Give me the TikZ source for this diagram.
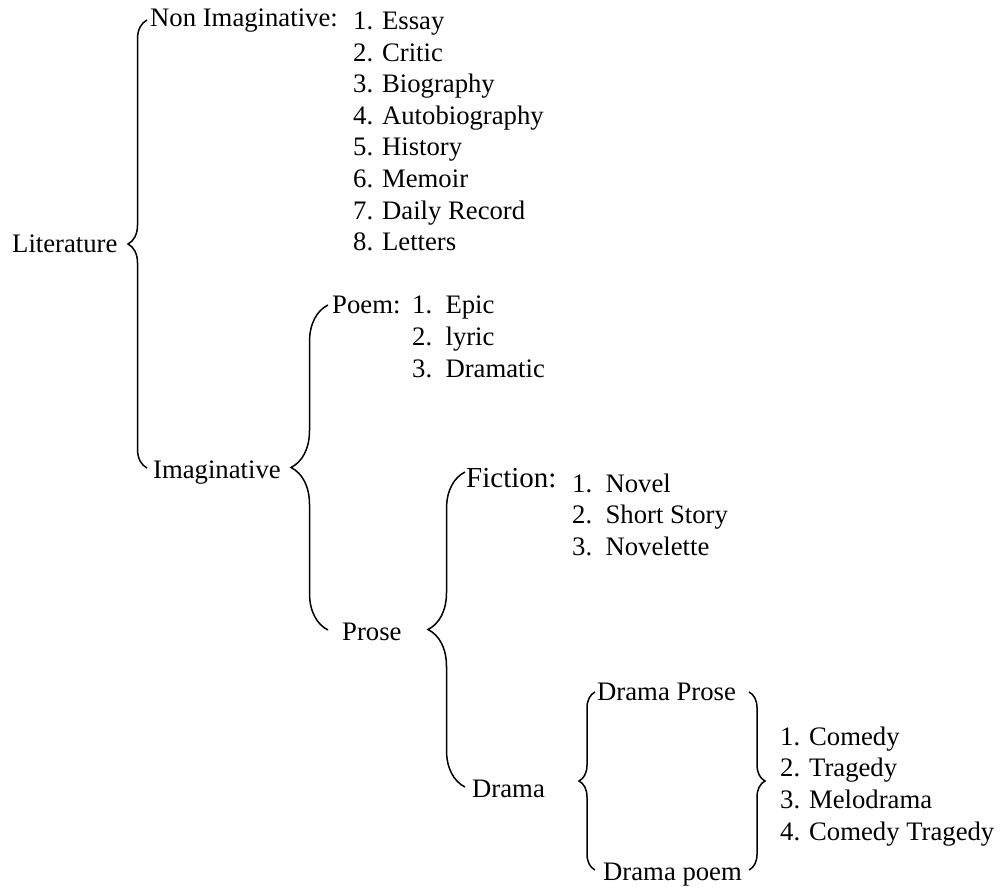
\documentclass[tikz,border=0pt]{standalone}
\usepackage{fontspec}
\setmainfont{Liberation Serif}
\usetikzlibrary{calc,decorations.pathreplacing}

\tikzset{
  Lbl/.style={inner sep=0pt,anchor=base west,font=\fontsize{26.7}{31.7}\selectfont},
  Brc/.style={decorate,decoration={brace,amplitude=#1},line width=1.5pt},
}

\begin{document}
\begin{tikzpicture}[x=1pt,y=-1pt]
\useasboundingbox (0,0) rectangle (1006,888);

\node[Lbl] (Lit)   at (12,252)  {Literature};
\node[Lbl] (NonIm) at (150,27)  {Non Imaginative:};
\node[Lbl] (Im)    at (153,478) {Imaginative};
\node[Lbl] (Poem)  at (332,313) {Poem:};
\node[Lbl] (Prose) at (342,640) {Prose};
\node[Lbl,font=\fontsize{29}{34}\selectfont] (Fic) at (466,487) {Fiction:};
\node[Lbl] (Dra)   at (472,797) {Drama};
\node[Lbl] (DraPr) at (597,700) {Drama Prose};
\node[Lbl] (DraPo) at (603,880) {Drama poem};

\foreach \t [count=\i] in {Essay,Critic,Biography,Autobiography,History,Memoir,Daily Record,Letters}
  \node[Lbl] (NonIm\i) at (353,{29.5+31.6*(\i-1)}) {\i. \t};
\foreach \t [count=\i] in {Epic,lyric,Dramatic}
  \node[Lbl] (Poem\i) at (412,{313+32*(\i-1)}) {\i.\ \ \t};
\foreach \t [count=\i] in {Novel,Short Story,Novelette}
  \node[Lbl] (Fic\i) at (572,{492+31.5*(\i-1)}) {\i.\ \ \t};
\foreach \t [count=\i] in {Comedy,Tragedy,Melodrama,Comedy Tragedy}
  \node[Lbl] (Dra\i) at (780,{745+31.7*(\i-1)}) {\i. \t};

% braces
\draw[Brc=19pt] ($(Im.base west -| NonIm.west)+(-3pt,10pt)$) -- ($(NonIm.base west)+(-3pt,7pt)$);
\draw[Brc=37pt] ($(Prose.base west -| Poem.west)+(-4pt,10pt)$) -- ($(Poem.base west)+(-4pt,8pt)$);
\draw[Brc=37pt] ($(Dra.base west -| Fic.west)+(-1pt,10pt)$) -- ($(Fic.base west)+(-1pt,15pt)$);
\draw[Brc=16pt] ($(DraPo.base west -| DraPr.west)+(-2pt,10pt)$) -- ($(DraPr.base west)+(-2pt,8pt)$);
\draw[Brc=16pt] ($(DraPr.base east -| DraPo.east)+(7pt,8pt)$) -- ($(DraPo.base east)+(7pt,10pt)$);

\end{tikzpicture}
\end{document}
